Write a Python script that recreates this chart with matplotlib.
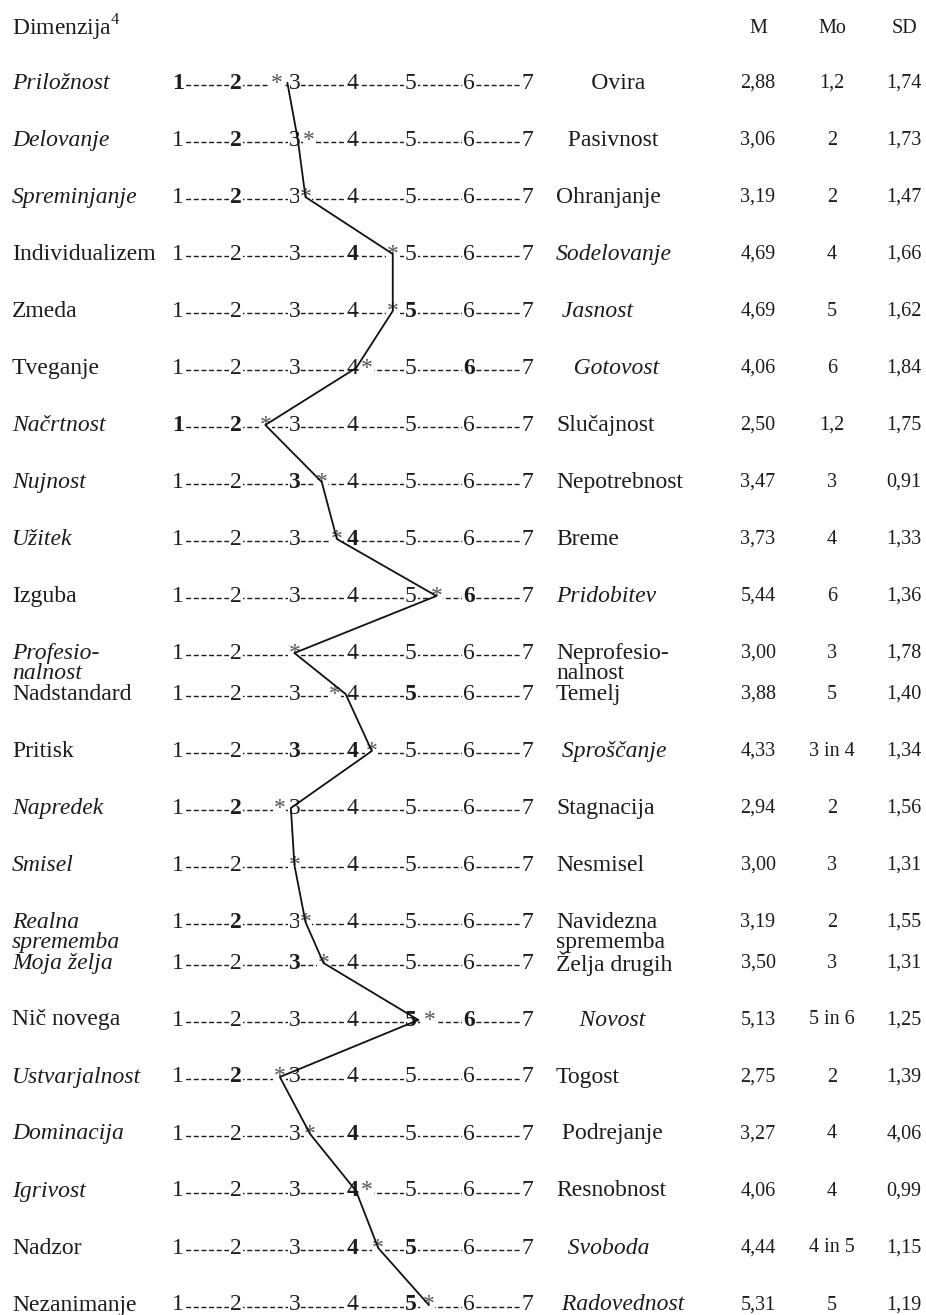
import matplotlib
matplotlib.use("Agg")
import matplotlib.pyplot as plt

plt.rcParams['font.family'] = ['Liberation Serif', 'DejaVu Serif']
plt.rcParams['mathtext.fontset'] = 'custom'
plt.rcParams['mathtext.rm'] = 'Liberation Serif'
plt.rcParams['lines.scale_dashes'] = False

# ---------------- data ----------------
left_labels = ["Priložnost", "Delovanje", "Spreminjanje", "Individualizem", "Zmeda",
               "Tveganje", "Načrtnost", "Nujnost", "Užitek", "Izguba",
               "Profesio-\nnalnost", "Nadstandard", "Pritisk", "Napredek", "Smisel",
               "Realna\nsprememba", "Moja želja", "Nič novega", "Ustvarjalnost",
               "Dominacija", "Igrivost", "Nadzor", "Nezanimanje"]
right_labels = ["      Ovira", "  Pasivnost", "Ohranjanje", "Sodelovanje", " Jasnost",
                "   Gotovost", "Slučajnost", "Nepotrebnost", "Breme", "Pridobitev",
                "Neprofesio-\nnalnost", "Temelj", " Sproščanje", "Stagnacija", "Nesmisel",
                "Navidezna\nsprememba", "Želja drugih", "    Novost", "Togost",
                " Podrejanje", "Resnobnost", "  Svoboda", " Radovednost"]
italic_side = ["L", "L", "L", "R", "R", "R", "L", "L", "L", "R", "L", "N", "R", "L",
               "L", "L", "L", "R", "L", "L", "L", "R", "R"]
means = [2.88, 3.06, 3.19, 4.69, 4.69, 4.06, 2.50, 3.47, 3.73, 5.44, 3.00, 3.88,
         4.33, 2.94, 3.00, 3.19, 3.50, 5.13, 2.75, 3.27, 4.06, 4.44, 5.31]
modes = ["1,2", "2", "2", "4", "5", "6", "1,2", "3", "4", "6", "3", "5", "3 in 4",
         "2", "3", "2", "3", "5 in 6", "2", "4", "4", "4 in 5", "5"]
sds = [1.74, 1.73, 1.47, 1.66, 1.62, 1.84, 1.75, 0.91, 1.33, 1.36, 1.78, 1.40,
       1.34, 1.56, 1.31, 1.55, 1.31, 1.25, 1.39, 4.06, 0.99, 1.15, 1.19]
scale_points = [1, 2, 3, 4, 5, 6, 7]
header_left = "Dimenzija$^{4}$"
header_cols = ["M", "Mo", "SD"]

# ---------------- layout ----------------
W, H = 926, 1315
fig = plt.figure(figsize=(W / 100, H / 100), dpi=100)
ax = fig.add_axes([0, 0, 1, 1])
px_per_unit = 58.2
x_one = 178
ax.set_xlim(1 - x_one / px_per_unit, 1 + (W - x_one) / px_per_unit)
ax.set_ylim(H, 0)
ax.axis('off')
tr = ax.get_yaxis_transform()

ink = '#1c1c1c'
fs = 17
fs_stat = 14.5
line_gap = 20

row_y = []
y = 83
for lab in left_labels:
    row_y.append(y)
    y += 41 if '\n' in lab else 57

x_left = 12 / W
x_right = 556 / W
col_x = [758 / W, 832 / W, 904 / W]

# header
ax.text(x_left, 28, header_left, transform=tr, ha='left', va='center',
        fontsize=fs, color=ink)
for cx, h in zip(col_x, header_cols):
    ax.text(cx, 28, h, transform=tr, ha='center', va='center',
            fontsize=fs_stat, color=ink)


def multi_text(x, y0, s, style):
    for k, part in enumerate(s.split('\n')):
        ax.text(x, y0 + k * line_gap, part, transform=tr, ha='left', va='center',
                fontsize=fs, style=style, color=ink)


for i, yy in enumerate(row_y):
    multi_text(x_left, yy, left_labels[i], 'italic' if italic_side[i] == 'L' else 'normal')
    multi_text(x_right, yy, right_labels[i], 'italic' if italic_side[i] == 'R' else 'normal')

    # dashed scale
    ax.plot([scale_points[0], scale_points[-1]], [yy + 2, yy + 2],
            ls=(0, (3.6, 1.9)), lw=1.0, color=ink, zorder=1)

    bold_pts = [int(v) for v in modes[i].replace(' in ', ',').split(',')]
    m = means[i]
    nearest = round(m)
    replaced = abs(m - nearest) < 0.01
    for p in scale_points:
        if replaced and p == nearest:
            continue
        ax.text(p, yy, str(p), ha='center', va='center', fontsize=fs,
                fontweight='bold' if p in bold_pts else 'normal', color=ink,
                bbox=dict(facecolor='white', edgecolor='none', pad=0.6), zorder=3)

    # asterisk at the mean
    d = m - nearest
    dx = 0
    if not replaced and abs(d) < 0.14:
        dx = 8 if d > 0 else -8
    ax.annotate('*', xy=(m, yy), xytext=(dx, 0), textcoords='offset points',
                ha='center', va='center', fontsize=fs, color='#555555',
                bbox=dict(facecolor='white', edgecolor='none', pad=0.3), zorder=4)

    # statistics columns
    stats = [f"{m:.2f}".replace('.', ','), modes[i], f"{sds[i]:.2f}".replace('.', ',')]
    for cx, s in zip(col_x, stats):
        ax.text(cx, yy, s, transform=tr, ha='center', va='center',
                fontsize=fs_stat, color=ink)

# profile line through the means
ax.plot(means, row_y, color='#111111', lw=1.3, zorder=6)

fig.savefig('out.png', dpi=100, facecolor='white')
